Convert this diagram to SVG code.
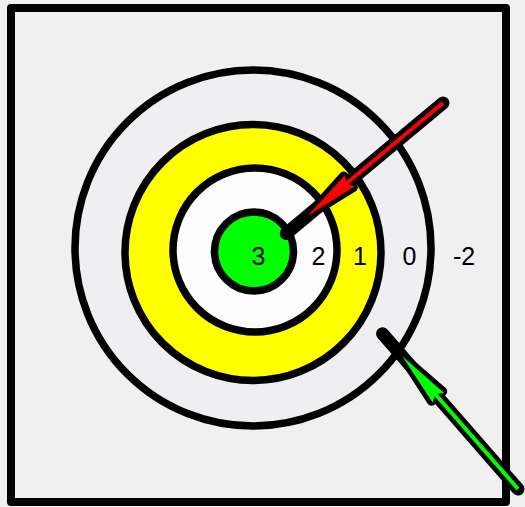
<svg xmlns="http://www.w3.org/2000/svg" width="525" height="507" viewBox="0 0 525 507">
  <defs>
    <style>
      .ring { stroke: #000; stroke-width: 7.5; }
      .lbl { font-family: "Liberation Sans", Arial, sans-serif; font-size: 25px; fill: #000; text-anchor: middle; }
      .stick { stroke: #000; stroke-width: 13; stroke-linecap: round; fill: none; }
      .headOutline { fill: #000; stroke: #000; stroke-width: 9; stroke-linejoin: round; }
    </style>
  </defs>
  <rect x="0" y="0" width="525" height="507" fill="#f0f0f0"/>
  <g id="frame">
    <rect x="11" y="8" width="495" height="494" fill="#f0f0f0" stroke="#000" stroke-width="8" stroke-linejoin="round"/>
  </g>
  <g id="ring-outer">
    <circle class="ring" cx="253" cy="248" r="178" fill="#efeef0"/>
  </g>
  <g id="ring-yellow">
    <circle class="ring" cx="253" cy="252.5" r="128" fill="#ffff00"/>
  </g>
  <g id="ring-white">
    <circle class="ring" cx="255" cy="250" r="82" fill="#fcfbfd"/>
  </g>
  <g id="bullseye">
    <circle class="ring" cx="254" cy="251.5" r="39.5" fill="#00ff00"/>
  </g>
  <g id="labels">
    <text class="lbl" x="258.5" y="265">3</text>
    <text class="lbl" x="318.5" y="265">2</text>
    <text class="lbl" x="360" y="265">1</text>
    <text class="lbl" x="409.5" y="265">0</text>
    <text class="lbl" x="464" y="265">-2</text>
  </g>
  <g id="connectors">
    <g id="arrow-red" transform="translate(443,103) rotate(140.2)">
      <line class="stick" x1="0" y1="0" x2="204" y2="0"/>
      <polygon class="headOutline" points="123,-7.5 176,0 123,7.5"/>
      <line x1="0" y1="0" x2="128" y2="0" stroke="#ff0000" stroke-width="4"/>
      <polygon points="121,-7.5 176,0 121,7.5 126,0" fill="#ff0000"/>
    </g>
    <g id="arrow-green" transform="translate(518,489) rotate(-131.1)">
      <line class="stick" x1="0" y1="0" x2="206" y2="0"/>
      <polygon class="headOutline" points="123,-7.5 176,0 123,7.5"/>
      <line x1="0" y1="0" x2="128" y2="0" stroke="#00ff00" stroke-width="4"/>
      <polygon points="121,-7.5 176,0 121,7.5 126,0" fill="#00ff00"/>
    </g>
  </g>
</svg>
